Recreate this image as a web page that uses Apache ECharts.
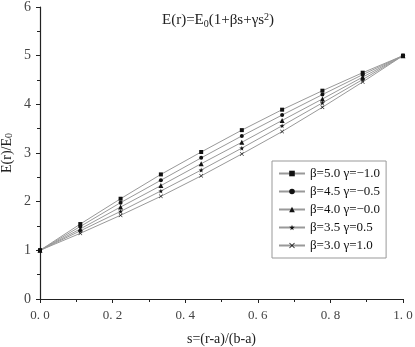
<!DOCTYPE html>
<html>
<head>
<meta charset="utf-8">
<script src="https://cdn.jsdelivr.net/npm/echarts@6/dist/echarts.min.js"></script>
<style>
  html, body { margin: 0; padding: 0; background: #fff; }
  #container { width: 415px; height: 347px; }
</style>
</head>
<body>
<div id="container"></div>
<script>
// data
var sValues = [0, 0.111, 0.222, 0.333, 0.444, 0.556, 0.667, 0.778, 0.889, 1.0];
var seriesNames = ['β=5.0 γ=−1.0', 'β=4.5 γ=−0.5', 'β=4.0 γ=−0.0', 'β=3.5 γ=0.5', 'β=3.0 γ=1.0'];
var e1 = [1, 1.54, 2.06, 2.56, 3.02, 3.47, 3.89, 4.28, 4.65, 5];
var e2 = [1, 1.49, 1.98, 2.44, 2.90, 3.35, 3.78, 4.20, 4.61, 5];
var e3 = [1, 1.44, 1.89, 2.33, 2.78, 3.22, 3.67, 4.11, 4.56, 5];
var e4 = [1, 1.40, 1.80, 2.22, 2.65, 3.10, 3.56, 4.03, 4.51, 5];
var e5 = [1, 1.35, 1.72, 2.11, 2.53, 2.98, 3.44, 3.94, 4.46, 5];
var seriesValues = [e1, e2, e3, e4, e5];

// markers
var starPath = 'path://M50,0L61,35L98,35L68,57L79,91L50,70L21,91L32,57L2,35L39,35Z';
var crossPath = 'path://M0,10L10,0L50,40L90,0L100,10L60,50L100,90L90,100L50,60L10,100L0,90L40,50Z';
var symbols = ['rect', 'circle', 'triangle', starPath, crossPath];
var symbolSizes = [4, 4, 5, 5, 4];

var serif = 'Liberation Serif, Times New Roman, serif';

var dom = document.getElementById('container');
var myChart = echarts.init(dom, null, { renderer: 'canvas' });

function toPoints(vals) {
    return vals.map(function (v, i) { return [sValues[i], v]; });
}

var series = seriesNames.map(function (name, i) {
    return {
        name: name,
        type: 'line',
        data: toPoints(seriesValues[i]),
        symbol: symbols[i],
        symbolSize: symbolSizes[i],
        showAllSymbol: true,
        lineStyle: { color: '#999', width: 1 },
        itemStyle: { color: '#111', borderWidth: 0 },
        emphasis: { disabled: true },
        animation: false
    };
});

var option = {
    backgroundColor: '#fff',
    title: {
        text: 'E(r)=E{sub|0}(1+βs+γs{sup|2})',
        left: 157,
        top: 7,
        textStyle: {
            fontFamily: serif,
            fontSize: 15,
            fontWeight: 'normal',
            color: '#222',
            rich: {
                sub: { fontFamily: serif, fontSize: 10, color: '#222', verticalAlign: 'bottom', padding: [7, 0, 0, 0] },
                sup: { fontFamily: serif, fontSize: 10, color: '#222', verticalAlign: 'top', padding: [0, 0, 7, 0] }
            }
        }
    },
    legend: {
        orient: 'vertical',
        left: 272,
        top: 161,
        padding: [6, 6, 6, 6],
        itemGap: 5,
        itemWidth: 26,
        itemHeight: 7,
        borderColor: '#999',
        borderWidth: 1,
        data: seriesNames,
        textStyle: { fontFamily: serif, fontSize: 13, color: '#111' }
    },
    grid: { left: 40, right: 12, top: 7, bottom: 48, outerBoundsMode: 'none', containLabel: false },
    xAxis: {
        type: 'value',
        min: 0,
        max: 1,
        interval: 0.2,
        name: 's=(r-a)/(b-a)',
        nameLocation: 'middle',
        nameGap: 33,
        nameMoveOverlap: false,
        nameTextStyle: { fontFamily: serif, fontSize: 14, color: '#222' },
        axisLine: { lineStyle: { color: '#222', width: 1.2 } },
        axisTick: { inside: false, length: 4, lineStyle: { color: '#222' } },
        minorTick: { show: true, splitNumber: 2, length: 3, lineStyle: { color: '#222' } },
        splitLine: { show: false },
        axisLabel: {
            fontFamily: serif,
            fontSize: 13,
            color: '#444',
            margin: 10,
            hideOverlap: false,
            formatter: function (v) { return v.toFixed(1).replace('.', '. '); }
        }
    },
    yAxis: {
        type: 'value',
        min: 0,
        max: 6,
        interval: 1,
        name: 'E(r)/E{sub|0}',
        nameLocation: 'middle',
        nameGap: 26,
        nameMoveOverlap: false,
        nameTextStyle: {
            fontFamily: serif,
            fontSize: 14,
            color: '#222',
            rich: {
                sub: { fontFamily: serif, fontSize: 10, color: '#222', verticalAlign: 'bottom' }
            }
        },
        axisLine: { show: true, lineStyle: { color: '#222', width: 1.2 } },
        axisTick: { show: true, inside: false, length: 4, lineStyle: { color: '#222' } },
        minorTick: { show: true, splitNumber: 2, length: 3, lineStyle: { color: '#222' } },
        splitLine: { show: false },
        axisLabel: { fontFamily: serif, fontSize: 14, color: '#444', margin: 9, hideOverlap: false }
    },
    series: series
};

myChart.setOption(option);
window.addEventListener('resize', myChart.resize);
</script>
</body>
</html>
